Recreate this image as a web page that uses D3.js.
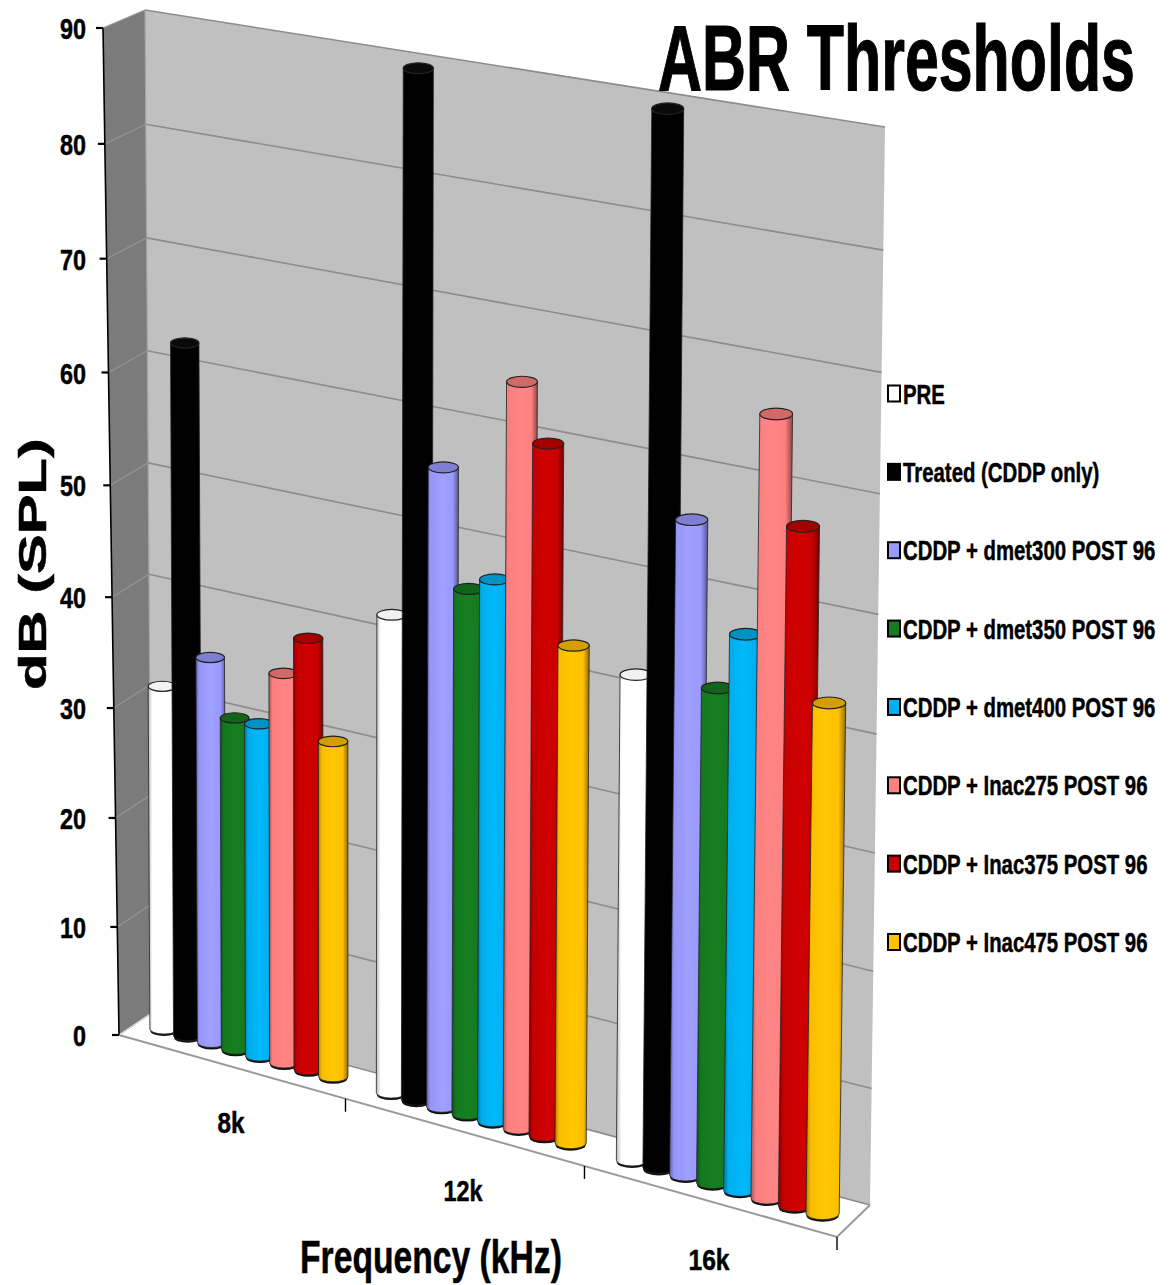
<!DOCTYPE html>
<html><head><meta charset="utf-8">
<script src="https://cdn.jsdelivr.net/npm/d3@7"></script>
<style>html,body{margin:0;background:#fff}svg{display:block}text{font-family:"Liberation Sans",Arial,sans-serif;font-weight:bold;fill:#000;stroke:#000;stroke-width:.5px}</style>
</head><body><svg id="c" width="1171" height="1285"></svg>
<script>
const categories = ["8k","12k","16k"];
const seriesNames = ["PRE","Treated (CDDP only)","CDDP + dmet300 POST 96","CDDP + dmet350 POST 96","CDDP + dmet400 POST 96","CDDP + Inac275 POST 96","CDDP + Inac375 POST 96","CDDP + Inac475 POST 96"];
const seriesColors = ["#ffffff","#000000","#9999ff","#157a20","#00b0f0","#ff8080","#c80000","#ffc000"];
const pre      = [31.2,42.2,41.7];
const treated  = [62.3,89.5,89.3];
const dmet300  = [34.8,55.9,55.7];
const dmet350  = [29.9,45.9,42.1];
const dmet400  = [29.9,47.2,47.1];
const inac275  = [34.9,64.5,65.8];
const inac375  = [38.5,59.7,57.0];
const inac475  = [29.9,43.0,42.9];
const seriesValues = [pre,treated,dmet300,dmet350,dmet400,inac275,inac375,inac475];
const yTicks = [0,10,20,30,40,50,60,70,80,90];

// Square-to-quad projective map: (0,0) p0, (1,0) p1, (1,1) p2, (0,1) p3
function quad(p0,p1,p2,p3){
  const dx1=p1[0]-p2[0],dx2=p3[0]-p2[0],sx=p0[0]-p1[0]+p2[0]-p3[0];
  const dy1=p1[1]-p2[1],dy2=p3[1]-p2[1],sy=p0[1]-p1[1]+p2[1]-p3[1];
  const det=dx1*dy2-dx2*dy1;
  const g=(sx*dy2-dx2*sy)/det,h=(dx1*sy-sx*dy1)/det;
  const a=p1[0]-p0[0]+g*p1[0],b=p3[0]-p0[0]+h*p3[0],c=p0[0];
  const d=p1[1]-p0[1]+g*p1[1],e=p3[1]-p0[1]+h*p3[1],f=p0[1];
  return (u,v)=>{const w=g*u+h*v+1;return [(a*u+b*v+c)/w,(d*u+e*v+f)/w];};
}
const wall  = quad([152,1013],[870,1205],[885,127],[145,10]);
const axisPlane = quad([119,1035],[159,1035],[144.6,28],[103,28]);
const floor_= quad([119,1035],[837,1237],[837,1128.5],[119,935]);
const barPlane = quad([164,1029],[888,1232],[904,136],[159,23]);

const yScale = d3.scaleLinear().domain([0,90]).range([0,1]);
const catScale = d3.scaleBand().domain(categories).range([0,1]);
const serScale = d3.scalePoint().domain(seriesNames).range([0,0.25]);
const svg = d3.select("#c");
const defs = svg.append("defs");
const poly = pts => "M"+pts.map(p=>p.join(",")).join("L")+"Z";
const line = (a,b)=>`M${a[0]},${a[1]}L${b[0]},${b[1]}`;

// walls and floor
svg.append("path").attr("d",poly([wall(0,0),wall(1,0),wall(1,1),wall(0,1)])).attr("fill","#c0c0c0");
svg.append("path").attr("d",poly([axisPlane(0,0),wall(0,0),wall(0,1),axisPlane(0,1)])).attr("fill","#7b7b7b");
svg.append("path").attr("d",line(wall(0,0),wall(0,1))).attr("fill","none").attr("stroke","#a4a4a4").attr("stroke-width",1.2);
svg.append("g").selectAll("path").data(yTicks).join("path")
  .attr("d",t=>line(wall(0,yScale(t)),wall(1,yScale(t))))
  .attr("stroke","#8c8c8c").attr("stroke-width",1.6).attr("fill","none");
svg.append("g").selectAll("path").data(yTicks).join("path")
  .attr("d",t=>line(axisPlane(0,yScale(t)),wall(0,yScale(t))))
  .attr("stroke","#959595").attr("stroke-width",1.2).attr("fill","none");
svg.append("path").attr("d",`${line([119,1035],[837,1237])}L870,1205`).attr("fill","none").attr("stroke","#999").attr("stroke-width",2);
svg.append("path").attr("d",line([119,1035],[152,1013])).attr("stroke","#ddd").attr("stroke-width",1.5);

// value axis
svg.append("path").attr("d",line(axisPlane(0,0),axisPlane(0,1))).attr("stroke","#000").attr("stroke-width",1.6);
const yt = svg.append("g").selectAll("g").data(yTicks).join("g");
yt.append("path").attr("d",t=>{const p=axisPlane(0,yScale(t));return line([p[0]-7,p[1]],[p[0],p[1]]);}).attr("stroke","#000").attr("stroke-width",2.2);
function fit(sel,x,y,width,anchor,rot){
  sel.each(function(){
    const len=this.getComputedTextLength(), s=width/len;
    const xx = anchor==="end"?x-width:anchor==="middle"?x-width/2:x;
    d3.select(this).attr("transform",rot?`translate(${x},${y}) rotate(-90) scale(${s},1) translate(${-len/2},0)`:`translate(${xx},${y}) scale(${s},1)`);
  });
}
yt.append("text").attr("font-size",30).text(t=>t).each(function(t){
  const p=axisPlane(0,yScale(t));
  fit(d3.select(this),86,p[1]+11,t===0?13:26,"end");
});

// category ticks + labels
[1,2,3].forEach(i=>{
  const p=floor_(i/3,0);
  svg.append("path").attr("d",line(p,[p[0],p[1]+13])).attr("stroke","#000").attr("stroke-width",1.4);
});
const catLabelX=[231,463,709], catLabelY=[1133,1201,1270], catLabelW=[27,39,41];
categories.forEach((c,i)=>{
  fit(svg.append("text").attr("font-size",30).text(c),catLabelX[i],catLabelY[i],catLabelW[i],"middle");
});

// cylinders
const barDu = 0.0213;
seriesNames.forEach((name,si)=>{
  const col=seriesColors[si], id="g"+si, c=d3.color(col);
  const isW=si===0,isB=si===1;
  const lg=defs.append("linearGradient").attr("id",id);
  const stops = isB ? [[0,"#000"],[1,"#000"]] :
    isW ? [[0,"#b8b8b8"],[.14,"#fff"],[.85,"#fff"],[1,"#a8a8a8"]] :
    [[0,c.darker(1.1)],[.12,c.darker(.05)],[.5,c.brighter(.12)],[.82,c],[1,c.darker(1.6)]];
  stops.forEach(s=>lg.append("stop").attr("offset",s[0]).attr("stop-color",s[1]));
});
const g = svg.append("g");
seriesNames.forEach((name,si)=>{
  const col=seriesColors[si], c=d3.color(col);
  const gs=g.append("g");
  seriesValues[si].forEach((val,ci)=>{
    const u=catScale(categories[ci])+serScale(name);
    const B=barPlane(u,0),T=barPlane(u,yScale(val));
    const r=(barPlane(u+barDu,0)[0]-barPlane(u-barDu,0)[0])/2, ry=r*0.36;
    gs.append("ellipse").attr("cx",B[0]).attr("cy",B[1]+2).attr("rx",r-.5).attr("ry",ry).attr("fill","#111");
    gs.append("path").attr("d",`M${T[0]-r},${T[1]}L${B[0]-r},${B[1]}A${r},${ry} 0 0 0 ${B[0]+r},${B[1]}L${T[0]+r},${T[1]}Z`)
      .attr("fill",`url(#g${si})`).attr("stroke","#222").attr("stroke-width",.8);
    gs.append("ellipse").attr("cx",T[0]).attr("cy",T[1]).attr("rx",r).attr("ry",ry)
      .attr("fill",si===0?"#f2f2f2":si===1?"#0a0a0a":c.darker(.55)).attr("stroke","#222").attr("stroke-width",1.2);
  });
});

// titles
fit(svg.append("text").attr("font-size",92).text("ABR Thresholds").style("stroke-width","1.2px"),658,90,477,"start");
fit(svg.append("text").attr("font-size",46).text("Frequency (kHz)"),300,1273,262,"start");
fit(svg.append("text").attr("font-size",39).text("dB (SPL)"),46,564,252,"start",true);

// legend
const legY = d3.scalePoint().domain(seriesNames).range([393.5,942]);
const leg = svg.append("g").selectAll("g").data(seriesNames).join("g");
leg.append("rect").attr("x",888).attr("width",12).attr("height",16)
  .attr("y",d=>legY(d)-8).attr("fill",(d,i)=>seriesColors[i]).attr("stroke","#000").attr("stroke-width",2);
leg.append("text").attr("font-size",28).text(d=>d).each(function(d){
  d3.select(this).attr("transform",`translate(903,${legY(d)+10}) scale(0.727,1)`);
});
</script></body></html>
